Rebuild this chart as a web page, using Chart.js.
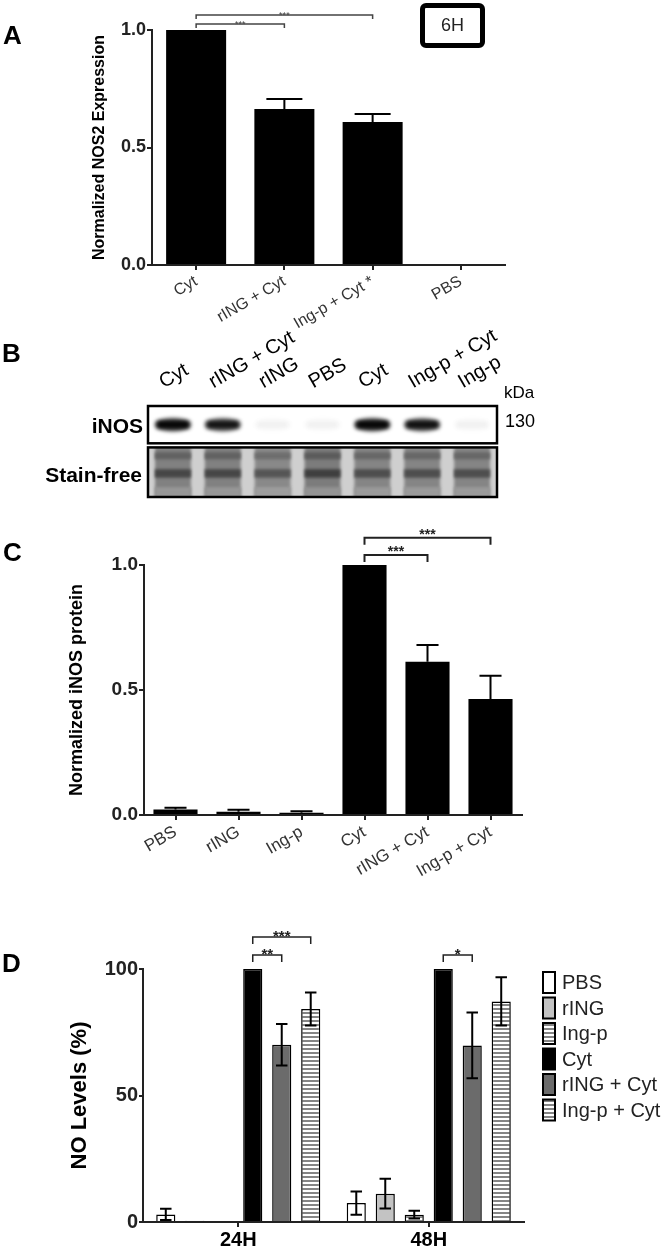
<!DOCTYPE html>
<html>
<head>
<meta charset="utf-8">
<script src="https://cdn.jsdelivr.net/npm/chart.js@4.4.1/dist/chart.umd.min.js"></script>
<style>
  body { margin: 0; background: #fff; }
  #fig { position: relative; width: 665px; height: 1247px; overflow: hidden; font-family: 'Liberation Sans', Arial, sans-serif; }
  canvas { position: absolute; left: 0; }
  .t { position: absolute; line-height: 1; white-space: nowrap; color: #000; }
  .letter { font-size: 26px; font-weight: bold; }
  #box6h { position: absolute; left: 420px; top: 3px; width: 55px; height: 35px; border: 5px solid #000; border-radius: 6px;
           font-size: 18px; line-height: 35px; text-align: center; color: #222; }
</style>
</head>
<body>
<div id="fig">
  <canvas id="chartA" width="665" height="330" style="top:0px"></canvas>
  <canvas id="chartB" width="665" height="170" style="top:330px"></canvas>
  <canvas id="chartC" width="665" height="380" style="top:500px"></canvas>
  <canvas id="chartD" width="665" height="347" style="top:900px"></canvas>

  <div class="t letter" style="left:3px;top:22px">A</div>
  <div class="t letter" style="left:2px;top:340px">B</div>
  <div class="t letter" style="left:3px;top:539px">C</div>
  <div class="t letter" style="left:2px;top:950px">D</div>
  <div id="box6h">6H</div>

  <div class="t" style="left:0;width:143px;text-align:right;top:415px;font-size:21px;font-weight:bold">iNOS</div>
  <div class="t" style="left:0;width:142px;text-align:right;top:464px;font-size:21px;font-weight:bold">Stain-free</div>
  <div class="t" style="left:504px;top:384px;font-size:17px">kDa</div>
  <div class="t" style="left:505px;top:412px;font-size:18px">130</div>
</div>

<script>
Chart.defaults.font.family = "'Liberation Sans', Arial, sans-serif";
Chart.defaults.color = '#000';

// PANEL A - NOS2 mRNA, 6H
const aCats = ['Cyt', 'rING + Cyt', 'Ing-p + Cyt *', 'PBS'];
const aVals = [1.0, 0.664, 0.608, 0];
const aErr = [0, 0.042, 0.035, 0];
const aTicks = [0, 0.5, 1.0];
const aSig = [[0, 1, '***'], [0, 2, '***']];

// PANEL B - blot lanes
const blotLanes = ['Cyt', 'rING + Cyt', 'rING', 'PBS', 'Cyt', 'Ing-p + Cyt', 'Ing-p'];
const inosBand = [0.95, 0.82, 0.03, 0.03, 0.95, 0.85, 0.03];
const stainFree = [0.9, 0.9, 0.8, 0.95, 0.85, 0.85, 0.85];

// PANEL C - iNOS protein
const cCats = ['PBS', 'rING', 'Ing-p', 'Cyt', 'rING + Cyt', 'Ing-p + Cyt'];
const cVals = [0.022, 0.013, 0.009, 1.0, 0.613, 0.464];
const cErr = [0.007, 0.008, 0.006, 0, 0.067, 0.093];
const cTicks = [0, 0.5, 1.0];
const cSig = [[3, 4, '***'], [3, 5, '***']];

// PANEL D - NO levels
const dGroups = ['24H', '48H'];
const dSeries = ['PBS', 'rING', 'Ing-p', 'Cyt', 'rING + Cyt', 'Ing-p + Cyt'];
const dPBS = [3.0, 7.5];
const dRING = [0.5, 11.2];
const dINGP = [0, 2.9];
const dCYT = [100, 100];
const dRINGCYT = [70.1, 69.8];
const dINGPCYT = [84.2, 87.2];
const dPBSErr = [2.2, 4.6];
const dRINGErr = [0, 5.9];
const dINGPErr = [0, 1.5];
const dCYTErr = [0, 0];
const dRINGCYTErr = [8.2, 13.0];
const dINGPCYTErr = [6.5, 9.5];
const dTicks = [0, 50, 100];
const dSig = [[0, 3, 4, '**'], [0, 3, 5, '***'], [1, 3, 4, '*']];

// striped fill for the Ing-p bars
function stripes() {
  const pc = document.createElement('canvas');
  pc.width = 4; pc.height = 4;
  const p = pc.getContext('2d');
  p.fillStyle = '#fff'; p.fillRect(0, 0, 4, 4);
  p.fillStyle = '#858585'; p.fillRect(0, 0, 4, 2);
  return p.createPattern(pc, 'repeat');
}

// error bars, read from dataset.errors
const errorBars = {
  id: 'errorBars',
  afterDatasetsDraw(chart, args, o) {
    const ctx = chart.ctx, y = chart.scales.y;
    chart.data.datasets.forEach((ds, di) => {
      if (!ds.errors) return;
      chart.getDatasetMeta(di).data.forEach((bar, i) => {
        const e = ds.errors[i];
        if (!e) return;
        const v = ds.data[i];
        const cap = bar.width * o.cap;
        const top = y.getPixelForValue(v + e);
        const bot = o.both ? y.getPixelForValue(Math.max(v - e, 0)) : bar.y;
        ctx.save();
        ctx.strokeStyle = '#000';
        ctx.lineWidth = o.width;
        ctx.beginPath();
        ctx.moveTo(bar.x, top); ctx.lineTo(bar.x, bot);
        ctx.moveTo(bar.x - cap / 2, top); ctx.lineTo(bar.x + cap / 2, top);
        if (o.both) { ctx.moveTo(bar.x - cap / 2, bot); ctx.lineTo(bar.x + cap / 2, bot); }
        ctx.stroke();
        ctx.restore();
      });
    });
  }
};

// significance brackets
const brackets = {
  id: 'brackets',
  afterDatasetsDraw(chart, args, o) {
    if (!o.pairs) return;
    const ctx = chart.ctx, y = chart.scales.y;
    o.pairs.forEach((p, k) => {
      const x1 = chart.getDatasetMeta(p.a[0]).data[p.a[1]].x;
      const x2 = chart.getDatasetMeta(p.b[0]).data[p.b[1]].x;
      const yy = y.getPixelForValue(o.levels[k]);
      ctx.save();
      ctx.strokeStyle = o.color;
      ctx.lineWidth = o.lineWidth;
      ctx.beginPath();
      ctx.moveTo(x1, yy + o.tick); ctx.lineTo(x1, yy); ctx.lineTo(x2, yy); ctx.lineTo(x2, yy + o.tick);
      ctx.stroke();
      ctx.fillStyle = o.color;
      ctx.font = o.font;
      ctx.textAlign = 'center';
      ctx.textBaseline = 'alphabetic';
      ctx.fillText(p.text, (x1 + x2) / 2, yy + o.textDy);
      ctx.restore();
    });
  }
};

// legend at the right of panel D
const sideLegend = {
  id: 'sideLegend',
  afterDraw(chart, args, o) {
    const ctx = chart.ctx;
    const x = chart.chartArea.right + o.dx;
    let y = chart.chartArea.top + o.dy;
    chart.data.datasets.forEach(ds => {
      ctx.save();
      ctx.fillStyle = ds.backgroundColor;
      ctx.fillRect(x, y, o.w, o.h);
      ctx.lineWidth = 2;
      ctx.strokeStyle = '#000';
      ctx.strokeRect(x, y, o.w, o.h);
      ctx.fillStyle = '#222';
      ctx.font = o.font;
      ctx.textBaseline = 'middle';
      ctx.fillText(ds.label, x + o.w + 7, y + o.h / 2 + 1);
      ctx.restore();
      y += o.step;
    });
  }
};

// western blot drawn on the lanes of chart B
const blot = {
  id: 'blot',
  beforeDatasetsDraw(chart) {
    const ctx = chart.ctx, ca = chart.chartArea;
    const ds = chart.data.datasets[0];
    const lanes = chart.getDatasetMeta(0).data;
    const h = ca.bottom - ca.top;
    const top1 = ca.top, bot1 = ca.top + h * 0.41;
    const top2 = ca.top + h * 0.455, bot2 = ca.bottom;
    const g = v => { const c = Math.round(v); return 'rgb(' + c + ',' + c + ',' + c + ')'; };

    ctx.save();
    ctx.fillStyle = '#fff';
    ctx.fillRect(ca.left, top1, ca.width, bot1 - top1);

    // stain-free
    ctx.save();
    ctx.beginPath(); ctx.rect(ca.left, top2, ca.width, bot2 - top2); ctx.clip();
    ctx.fillStyle = '#cfcfcf';
    ctx.fillRect(ca.left, top2, ca.width, bot2 - top2);
    ctx.filter = 'blur(1.5px)';
    const sh = bot2 - top2;
    lanes.forEach((bar, i) => {
      const v = ds.load[i], w = bar.width, x = bar.x - w / 2;
      ctx.fillStyle = g(205 - 85 * v); ctx.fillRect(x, top2 - 4, w, sh + 8);
      ctx.fillStyle = g(205 - 120 * v); ctx.fillRect(x, top2 + sh * 0.1, w, sh * 0.14);
      ctx.fillStyle = g(205 - 150 * v); ctx.fillRect(x, top2 + sh * 0.44, w, sh * 0.17);
      ctx.fillStyle = g(205 - 60 * v); ctx.fillRect(x, top2 + sh * 0.8, w, sh * 0.2 + 4);
    });
    ctx.restore();

    // iNOS bands
    ctx.save();
    ctx.beginPath(); ctx.rect(ca.left, top1, ca.width, bot1 - top1); ctx.clip();
    ctx.filter = 'blur(2px)';
    const mid = (top1 + bot1) / 2;
    lanes.forEach((bar, i) => {
      const v = ds.data[i], w = bar.width;
      ctx.fillStyle = 'rgba(0,0,0,' + (v * 0.8) + ')';
      ctx.beginPath(); ctx.ellipse(bar.x, mid, w / 2, 6.5, 0, 0, 2 * Math.PI); ctx.fill();
      ctx.fillStyle = 'rgba(0,0,0,' + v + ')';
      ctx.fillRect(bar.x - w / 2 + 2, mid - 3.5, w - 4, 7);
    });
    ctx.restore();

    ctx.strokeStyle = '#000';
    ctx.lineWidth = 2.5;
    ctx.strokeRect(ca.left, top1, ca.width, bot1 - top1);
    ctx.strokeRect(ca.left, top2, ca.width, bot2 - top2);
    ctx.restore();
  }
};

function axisGrid(len) {
  return { offset: false, drawOnChartArea: false, tickLength: len, color: '#222', lineWidth: 2 };
}

// A
new Chart(document.getElementById('chartA'), {
  type: 'bar',
  data: {
    labels: aCats,
    datasets: [{ data: aVals, errors: aErr, backgroundColor: '#000', barPercentage: 0.68, categoryPercentage: 1 }]
  },
  options: {
    responsive: false,
    animation: false,
    layout: { padding: { top: 30, right: 160, left: 0, bottom: 0 } },
    plugins: {
      legend: { display: false },
      tooltip: { enabled: false },
      errorBars: { cap: 0.6, width: 2, both: false },
      brackets: {
        pairs: aSig.map(s => ({ a: [0, s[0]], b: [0, s[1]], text: s[2] })),
        levels: [1.026, 1.064], tick: 4, color: '#444', lineWidth: 1.5, font: '9px Liberation Sans', textDy: 3
      }
    },
    scales: {
      x: {
        grid: axisGrid(5),
        border: { color: '#222', width: 2 },
        ticks: { color: '#333', font: { size: 16 }, minRotation: 30, maxRotation: 30, autoSkip: false, padding: 2 },
        afterFit: s => { s.height = 65; }
      },
      y: {
        min: 0, max: 1,
        afterBuildTicks: s => { s.ticks = aTicks.map(v => ({ value: v })); },
        grid: axisGrid(5),
        border: { color: '#222', width: 2 },
        ticks: { color: '#222', font: { size: 18, weight: 'bold' }, padding: 1, callback: v => v.toFixed(1) },
        title: { display: true, text: 'Normalized NOS2 Expression', color: '#000', font: { size: 16, weight: 'bold' }, padding: { top: 90, bottom: 0 } },
        afterFit: s => { s.width = 152; }
      }
    }
  },
  plugins: [errorBars, brackets]
});

// B
new Chart(document.getElementById('chartB'), {
  type: 'bar',
  data: {
    labels: blotLanes,
    datasets: [{ data: inosBand, load: stainFree, backgroundColor: 'rgba(0,0,0,0)', barPercentage: 0.72, categoryPercentage: 1 }]
  },
  options: {
    responsive: false,
    animation: false,
    layout: { padding: { left: 148, right: 168, top: 0, bottom: 3 } },
    plugins: { legend: { display: false }, tooltip: { enabled: false } },
    scales: {
      x: {
        position: 'top',
        grid: { display: false },
        border: { display: false },
        ticks: { color: '#000', font: { size: 20 }, minRotation: 30, maxRotation: 30, autoSkip: false, padding: 4 },
        afterFit: s => { s.height = 76; }
      },
      y: { display: false, min: 0, max: 1 }
    }
  },
  plugins: [blot]
});

// C
new Chart(document.getElementById('chartC'), {
  type: 'bar',
  data: {
    labels: cCats,
    datasets: [{ data: cVals, errors: cErr, backgroundColor: '#000', barPercentage: 0.7, categoryPercentage: 1 }]
  },
  options: {
    responsive: false,
    animation: false,
    layout: { padding: { top: 65, right: 143, left: 0, bottom: 0 } },
    plugins: {
      legend: { display: false },
      tooltip: { enabled: false },
      errorBars: { cap: 0.5, width: 2, both: false },
      brackets: {
        pairs: cSig.map(s => ({ a: [0, s[0]], b: [0, s[1]], text: s[2] })),
        levels: [1.04, 1.109], tick: 7, color: '#222', lineWidth: 2, font: 'bold 14px Liberation Sans', textDy: 1
      }
    },
    scales: {
      x: {
        grid: axisGrid(5),
        border: { color: '#222', width: 2 },
        ticks: { color: '#333', font: { size: 17 }, minRotation: 30, maxRotation: 30, autoSkip: false, padding: 2 },
        afterFit: s => { s.height = 65; }
      },
      y: {
        min: 0, max: 1,
        afterBuildTicks: s => { s.ticks = cTicks.map(v => ({ value: v })); },
        grid: axisGrid(5),
        border: { color: '#222', width: 2 },
        ticks: { color: '#222', font: { size: 19, weight: 'bold' }, padding: 1, callback: v => v.toFixed(1) },
        title: { display: true, text: 'Normalized iNOS protein', color: '#000', font: { size: 18, weight: 'bold' }, padding: { top: 66, bottom: 0 } },
        afterFit: s => { s.width = 144; }
      }
    }
  },
  plugins: [errorBars, brackets]
});

// D
const ingp = stripes();
const dData = [dPBS, dRING, dINGP, dCYT, dRINGCYT, dINGPCYT];
const dErr = [dPBSErr, dRINGErr, dINGPErr, dCYTErr, dRINGCYTErr, dINGPCYTErr];
const dFill = ['#fff', '#c3c3c3', ingp, '#000', '#6b6b6b', ingp];

new Chart(document.getElementById('chartD'), {
  type: 'bar',
  data: {
    labels: dGroups,
    datasets: dSeries.map((name, i) => ({
      label: name, data: dData[i], errors: dErr[i], backgroundColor: dFill[i],
      borderColor: '#000', borderWidth: 1.5, barPercentage: 0.66, categoryPercentage: 0.913
    }))
  },
  options: {
    responsive: false,
    animation: false,
    layout: { padding: { top: 69, right: 141, left: 0, bottom: 0 } },
    plugins: {
      legend: { display: false },
      tooltip: { enabled: false },
      errorBars: { cap: 0.6, width: 2, both: true },
      brackets: {
        pairs: dSig.map(s => ({ a: [s[1], s[0]], b: [s[2], s[0]], text: s[3] })),
        levels: [105.5, 112.6, 105.5], tick: 7, color: '#222', lineWidth: 1.5, font: 'bold 15px Liberation Sans', textDy: 4
      },
      sideLegend: { dx: 19, dy: 3, w: 12, h: 21, step: 25.5, font: '20px Liberation Sans' }
    },
    scales: {
      x: {
        grid: axisGrid(5),
        border: { color: '#222', width: 2 },
        ticks: { color: '#000', font: { size: 20, weight: 'bold' }, padding: 1, autoSkip: false, maxRotation: 0 },
        afterFit: s => { s.height = 25; }
      },
      y: {
        min: 0, max: 100,
        afterBuildTicks: s => { s.ticks = dTicks.map(v => ({ value: v })); },
        grid: axisGrid(4),
        border: { color: '#222', width: 2 },
        ticks: { color: '#222', font: { size: 20, weight: 'bold' }, padding: 1 },
        title: { display: true, text: 'NO Levels (%)', color: '#000', font: { size: 22, weight: 'bold' }, padding: { top: 67, bottom: 0 } },
        afterFit: s => { s.width = 143; }
      }
    }
  },
  plugins: [errorBars, brackets, sideLegend]
});
</script>
</body>
</html>
